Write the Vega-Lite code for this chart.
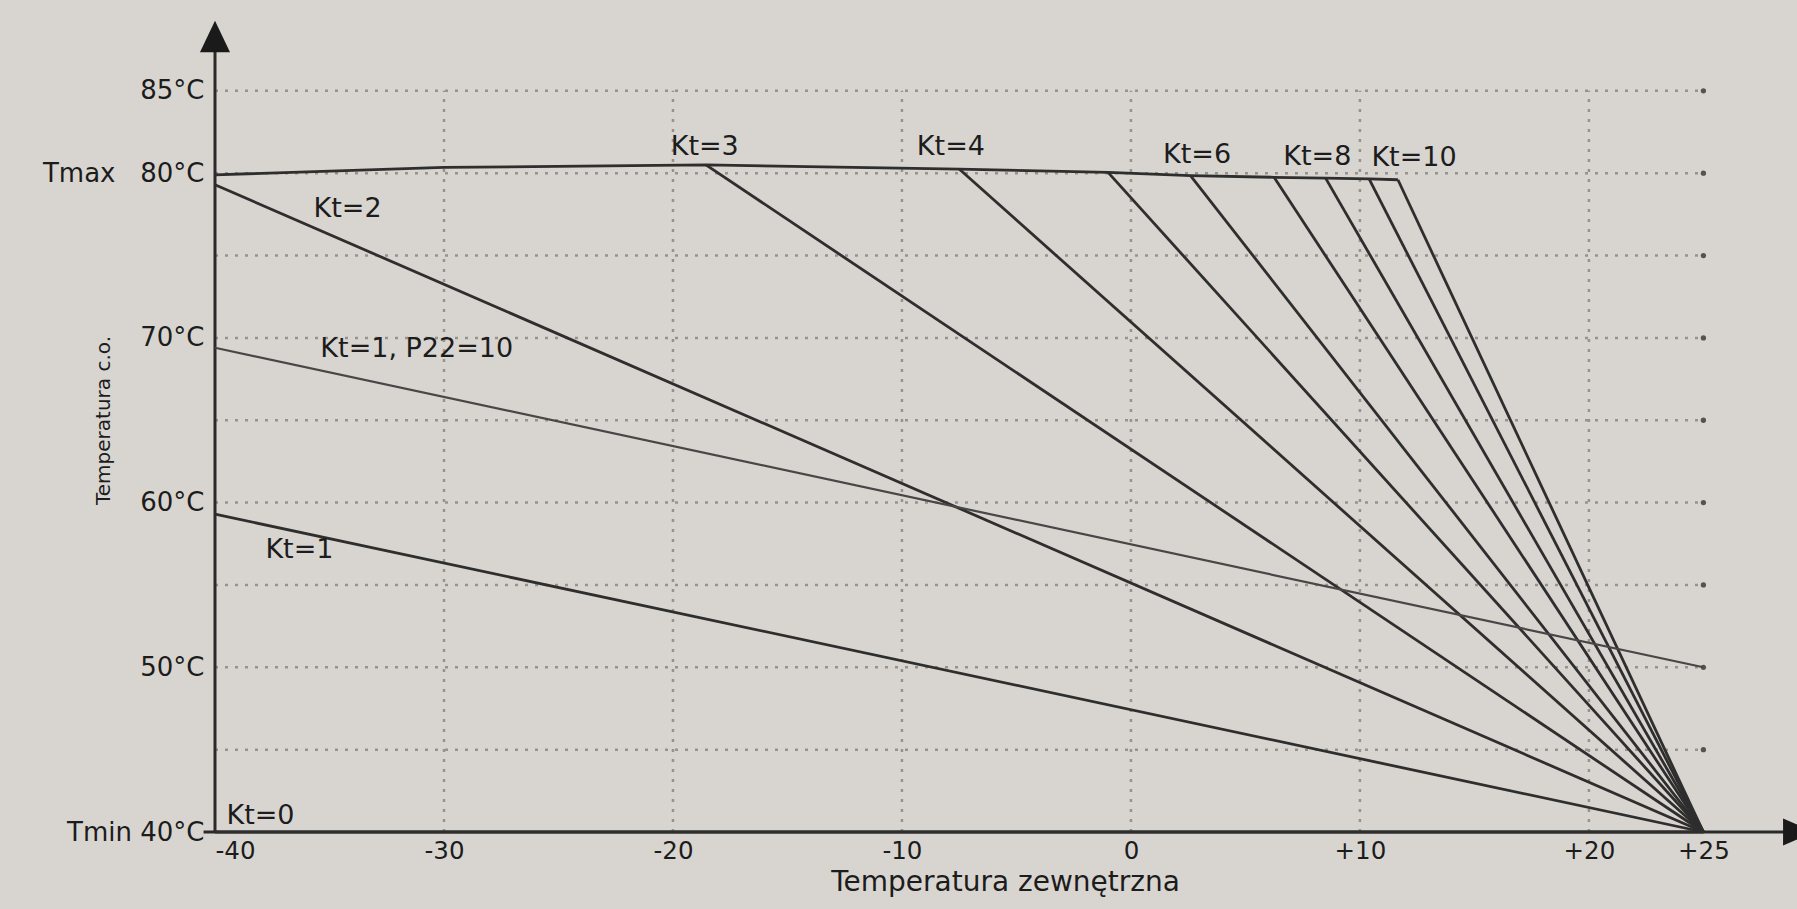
{
  "$schema": "https://vega.github.io/schema/vega-lite/v6.json",
  "autosize": {"type": "none"},
  "padding": {"left": 215, "top": 20, "right": 2, "bottom": 77},
  "width": 1580,
  "height": 812,
  "background": "#d8d5d0",
  "config": {
    "view": {"stroke": null},
    "font": "DejaVu Sans",
    "axis": {"labelFont": "DejaVu Sans", "titleFont": "DejaVu Sans", "labelColor": "#1c1c1c", "titleColor": "#1c1c1c", "titleFontWeight": "normal"}
  },
  "datasets": {
    "lines": [
      {"series": "Tmax", "o": 0, "x": -40, "y": 79.9},
      {"series": "Tmax", "o": 1, "x": -30, "y": 80.35},
      {"series": "Tmax", "o": 2, "x": -18.56, "y": 80.5},
      {"series": "Tmax", "o": 3, "x": -7.5, "y": 80.25},
      {"series": "Tmax", "o": 4, "x": -1.0, "y": 80.05},
      {"series": "Tmax", "o": 5, "x": 2.6, "y": 79.85},
      {"series": "Tmax", "o": 6, "x": 6.25, "y": 79.75},
      {"series": "Tmax", "o": 7, "x": 8.5, "y": 79.7},
      {"series": "Tmax", "o": 8, "x": 10.4, "y": 79.65},
      {"series": "Tmax", "o": 9, "x": 11.66, "y": 79.6},
      {"series": "Kt=2", "o": 0, "x": -40, "y": 79.3},
      {"series": "Kt=2", "o": 1, "x": 25, "y": 40},
      {"series": "Kt=3", "o": 0, "x": -18.56, "y": 80.5},
      {"series": "Kt=3", "o": 1, "x": 25, "y": 40},
      {"series": "Kt=4", "o": 0, "x": -7.5, "y": 80.25},
      {"series": "Kt=4", "o": 1, "x": 25, "y": 40},
      {"series": "Kt=5", "o": 0, "x": -1.0, "y": 80.05},
      {"series": "Kt=5", "o": 1, "x": 25, "y": 40},
      {"series": "Kt=6", "o": 0, "x": 2.6, "y": 79.85},
      {"series": "Kt=6", "o": 1, "x": 25, "y": 40},
      {"series": "Kt=7", "o": 0, "x": 6.25, "y": 79.75},
      {"series": "Kt=7", "o": 1, "x": 25, "y": 40},
      {"series": "Kt=8", "o": 0, "x": 8.5, "y": 79.7},
      {"series": "Kt=8", "o": 1, "x": 25, "y": 40},
      {"series": "Kt=9", "o": 0, "x": 10.4, "y": 79.65},
      {"series": "Kt=9", "o": 1, "x": 25, "y": 40},
      {"series": "Kt=10", "o": 0, "x": 11.66, "y": 79.6},
      {"series": "Kt=10", "o": 1, "x": 25, "y": 40},
      {"series": "Kt=1", "o": 0, "x": -40, "y": 59.3},
      {"series": "Kt=1", "o": 1, "x": 25, "y": 40},
      {"series": "Kt=1, P22=10", "o": 0, "x": -40, "y": 69.4},
      {"series": "Kt=1, P22=10", "o": 1, "x": 25, "y": 50},
      {"series": "Kt=0", "o": 0, "x": -40, "y": 40},
      {"series": "Kt=0", "o": 1, "x": 25, "y": 40}
    ],
    "hgrid": [
      {"y": 45, "x1": -40, "x2": 25},
      {"y": 50, "x1": -40, "x2": 25},
      {"y": 55, "x1": -40, "x2": 25},
      {"y": 60, "x1": -40, "x2": 25},
      {"y": 65, "x1": -40, "x2": 25},
      {"y": 70, "x1": -40, "x2": 25},
      {"y": 75, "x1": -40, "x2": 25},
      {"y": 80, "x1": -40, "x2": 25},
      {"y": 85, "x1": -40, "x2": 25}
    ],
    "vgrid": [
      {"x": -30, "y1": 40, "y2": 85},
      {"x": -20, "y1": 40, "y2": 85},
      {"x": -10, "y1": 40, "y2": 85},
      {"x": 0, "y1": 40, "y2": 85},
      {"x": 10, "y1": 40, "y2": 85},
      {"x": 20, "y1": 40, "y2": 85}
    ],
    "axislines": [
      {"x": -40, "y": 40, "x2": -40, "y2": 88.3},
      {"x": -40.5, "y": 40, "x2": 28.6, "y2": 40}
    ],
    "arrows": [
      {"dir": "up", "x": -40, "y": 88.3},
      {"dir": "right", "x": 29.17, "y": 40}
    ],
    "labels": [
      {"text": "Kt=2", "x": -35.7, "y": 77.8},
      {"text": "Kt=1, P22=10", "x": -35.4, "y": 69.3},
      {"text": "Kt=1", "x": -37.8, "y": 57.1},
      {"text": "Kt=0", "x": -39.5, "y": 41.0},
      {"text": "Kt=3", "x": -20.1, "y": 81.6},
      {"text": "Kt=4", "x": -9.35, "y": 81.6},
      {"text": "Kt=6", "x": 1.4, "y": 81.1},
      {"text": "Kt=8", "x": 6.65, "y": 81.0},
      {"text": "Kt=10", "x": 10.5, "y": 80.9}
    ]
  },
  "encoding": {
    "x": {"type": "quantitative", "scale": {"domain": [-40, 29], "nice": false, "zero": false}},
    "y": {"type": "quantitative", "scale": {"domain": [40, 89.3], "nice": false, "zero": false}}
  },
  "layer": [
    {
      "data": {"name": "hgrid"},
      "mark": {"type": "rule", "color": "#96938e", "strokeWidth": 2.5, "strokeDash": [3, 7]},
      "encoding": {
        "x": {"field": "x1", "type": "quantitative",
          "axis": {"values": [-40, -30, -20, -10, 0, 10, 20, 25], "labelExpr": "datum.value > 0 ? '+' + datum.value : '' + datum.value", "domain": false, "grid": false, "ticks": false, "labelPadding": 7, "labelFontSize": 24.5, "title": "Temperatura zewnętrzna", "titleFontSize": 28, "titlePadding": 6}},
        "x2": {"field": "x2"},
        "y": {"field": "y", "type": "quantitative",
          "axis": {"values": [40, 50, 60, 70, 80, 85], "labelExpr": "datum.value == 80 ? 'Tmax\u00a0\u00a0\u00a080°C' : datum.value == 40 ? 'Tmin 40°C' : datum.value + '°C'", "domain": false, "grid": false, "ticks": false, "labelPadding": 11, "labelFontSize": 26, "title": "Temperatura c.o.", "titleFontSize": 20, "titleX": -112, "titleY": 400, "titleBaseline": "middle", "titleAlign": "center"}}
      }
    },
    {
      "data": {"name": "hgrid"},
      "mark": {"type": "point", "filled": true, "color": "#555350", "size": 28, "opacity": 1},
      "encoding": {
        "x": {"field": "x2", "type": "quantitative"},
        "y": {"field": "y", "type": "quantitative"}
      }
    },
    {
      "data": {"name": "vgrid"},
      "mark": {"type": "rule", "color": "#96938e", "strokeWidth": 2.5, "strokeDash": [3, 7]},
      "encoding": {
        "x": {"field": "x", "type": "quantitative"},
        "y": {"field": "y1", "type": "quantitative"},
        "y2": {"field": "y2"}
      }
    },
    {
      "data": {"name": "axislines"},
      "mark": {"type": "rule", "color": "#2a2a2a", "strokeWidth": 3},
      "encoding": {
        "x": {"field": "x", "type": "quantitative"},
        "y": {"field": "y", "type": "quantitative"},
        "x2": {"field": "x2"},
        "y2": {"field": "y2"}
      }
    },
    {
      "data": {"name": "lines"},
      "transform": [{"filter": "datum.series != 'Kt=1, P22=10'"}],
      "mark": {"type": "line", "color": "#2e2e2e", "strokeWidth": 2.8},
      "encoding": {
        "x": {"field": "x", "type": "quantitative"},
        "y": {"field": "y", "type": "quantitative"},
        "detail": {"field": "series"},
        "order": {"field": "o", "type": "quantitative"}
      }
    },
    {
      "data": {"name": "lines"},
      "transform": [{"filter": "datum.series == 'Kt=1, P22=10'"}],
      "mark": {"type": "line", "color": "#484746", "strokeWidth": 2.2},
      "encoding": {
        "x": {"field": "x", "type": "quantitative"},
        "y": {"field": "y", "type": "quantitative"},
        "detail": {"field": "series"},
        "order": {"field": "o", "type": "quantitative"}
      }
    },
    {
      "data": {"name": "arrows"},
      "mark": {"type": "point", "filled": true, "color": "#1a1a1a", "opacity": 1, "size": 1000},
      "encoding": {
        "x": {"field": "x", "type": "quantitative"},
        "y": {"field": "y", "type": "quantitative"},
        "shape": {"field": "dir", "type": "nominal", "scale": {"domain": ["up", "right"], "range": ["M0,-1L0.95,1L-0.95,1Z", "M1,0L-1,0.85L-1,-0.85Z"]}, "legend": null}
      }
    },
    {
      "data": {"name": "labels"},
      "mark": {"type": "text", "align": "left", "baseline": "middle", "fontSize": 27, "color": "#1c1c1c", "font": "DejaVu Sans"},
      "encoding": {
        "x": {"field": "x", "type": "quantitative"},
        "y": {"field": "y", "type": "quantitative"},
        "text": {"field": "text"}
      }
    }
  ]
}
